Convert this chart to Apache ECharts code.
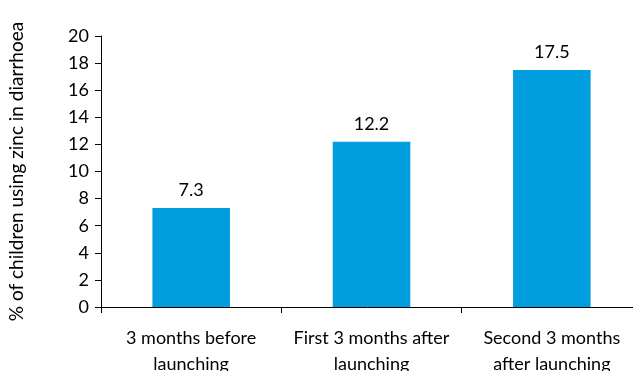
<!DOCTYPE html>
<html>
<head>
<meta charset="utf-8">
<script src="https://cdn.jsdelivr.net/npm/echarts@6/dist/echarts.min.js"></script>
<style>
html,body{margin:0;padding:0;background:#fff;}
#chart{width:633px;height:371px;}
</style>
</head>
<body>
<div id="chart"></div>
<script>
// 数据
var categories = ['3 months before\nlaunching', 'First 3 months after\nlaunching', 'Second 3 months\nafter launching'];
var values = [7.3, 12.2, 17.5];
var yTicks = [0, 20, 2]; // min, max, interval

var chart = echarts.init(document.getElementById('chart'));
chart.setOption({
    backgroundColor: '#fff',
    animation: false,
    textStyle: { fontFamily: 'Lato', color: '#000' },
    grid: { left: 101, top: 36, bottom: 64, right: -9, outerBoundsMode: 'none', containLabel: false },
    xAxis: {
        type: 'category',
        data: categories,
        axisLine: { lineStyle: { color: '#000', width: 1 } },
        axisTick: { show: true, alignWithLabel: false, length: 6, lineStyle: { color: '#000' } },
        axisLabel: { interval: 0, color: '#000', fontSize: 18, margin: 18, lineHeight: 26, fontFamily: 'Lato' }
    },
    yAxis: {
        type: 'value',
        min: yTicks[0],
        max: yTicks[1],
        interval: yTicks[2],
        name: '% of children using zinc in diarrhoea',
        nameLocation: 'middle',
        nameGap: 75,
        nameTextStyle: { color: '#000', fontSize: 19, fontFamily: 'Lato' },
        axisLine: { show: true, lineStyle: { color: '#000', width: 1 } },
        axisTick: { show: true, length: 6, lineStyle: { color: '#000' } },
        axisLabel: { color: '#000', fontSize: 18, margin: 12, fontFamily: 'Lato' },
        splitLine: { show: false }
    },
    series: [{
        type: 'bar',
        data: values,
        barWidth: '43%',
        itemStyle: { color: '#009ddf' },
        label: { show: true, position: 'top', distance: 9, color: '#000', fontSize: 18, fontFamily: 'Lato' }
    }]
});
</script>
</body>
</html>
